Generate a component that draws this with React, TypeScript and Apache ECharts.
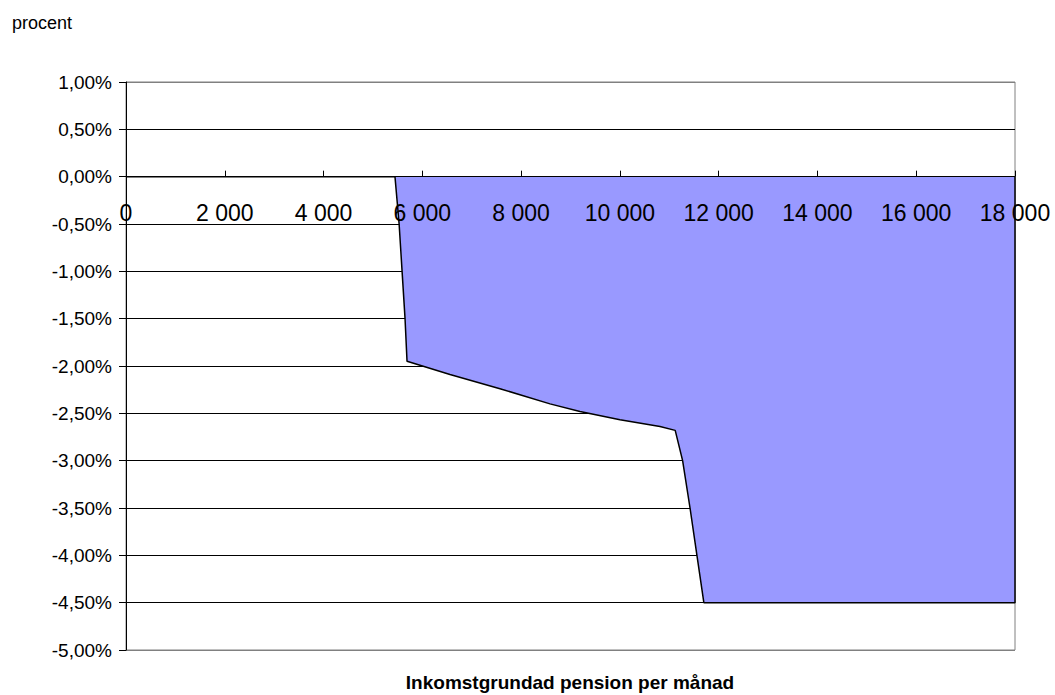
import React, { useEffect, useRef } from "react";
import * as echarts from "echarts";

const pensionX: number[] = [0, 5446, 5530, 5590, 5650, 5690, 6560, 7572, 8585, 9192, 10002, 10812, 11120, 11270, 11420, 11560, 11700, 18000, 18000];
const changePct: number[] = [0, 0, -0.5, -1.0, -1.5, -1.95, -2.09, -2.24, -2.4, -2.48, -2.567, -2.64, -2.68, -3.0, -3.5, -4.0, -4.5, -4.5, 0];

const yTitle = "procent";
const xTitle = "Inkomstgrundad pension per månad";

const FONT = "Liberation Sans, Arial, sans-serif";

export default function App() {
  const ref = useRef<HTMLDivElement>(null);
  useEffect(() => {
    if (!ref.current) return;
    const chart = echarts.init(ref.current, null, { renderer: "svg" });
    const data = pensionX.map((x, i) => [x, changePct[i]]);
    const gridColors: string[] = [];
    for (let i = 0; i < 13; i++) gridColors.push(i === 0 || i === 12 ? "#808080" : "#000000");
    chart.setOption({
      animation: false,
      backgroundColor: "#ffffff",
      grid: {
        left: 126, right: 40, top: 82, bottom: 45,
        outerBoundsMode: "none", containLabel: false,
        show: true, borderColor: "#808080", borderWidth: 1, backgroundColor: "transparent",
      },
      graphic: [
        { type: "text", left: 12, top: 14, style: { text: yTitle, font: `18px ${FONT}`, fill: "#000" } },
        {
          type: "text", x: 570, y: 682,
          style: { text: xTitle, font: `bold 19px ${FONT}`, fill: "#000", align: "center", verticalAlign: "middle" },
        },
      ],
      xAxis: {
        type: "value", min: 0, max: 18000, interval: 2000, z: 10,
        position: "bottom", offset: -473.33,
        axisLine: { onZero: false, lineStyle: { color: "#000", width: 1 } },
        axisTick: { inside: true, length: 6, lineStyle: { color: "#000" } },
        splitLine: { show: false },
        axisLabel: {
          color: "#000", fontFamily: FONT, fontSize: 23, margin: 25,
          formatter: (v: number) => (v === 0 ? "0" : `${Math.floor(v / 1000)} ${String(v % 1000).padStart(3, "0")}`),
        },
      },
      yAxis: {
        type: "value", min: -5, max: 1, interval: 0.5,
        axisLine: { show: true, lineStyle: { color: "#000", width: 1 } },
        axisTick: { show: true, length: 7, lineStyle: { color: "#000" } },
        splitLine: { show: true, lineStyle: { color: gridColors, width: 1 } },
        axisLabel: {
          color: "#000", fontFamily: FONT, fontSize: 19, margin: 14,
          formatter: (v: number) => `${v.toFixed(2).replace(".", ",")}%`,
        },
      },
      series: [
        {
          type: "line", data, symbol: "none", z: 2,
          lineStyle: { color: "#000", width: 1.5 },
          areaStyle: { color: "#9999FF", opacity: 1 },
        },
      ],
    });
    return () => chart.dispose();
  }, []);
  return <div ref={ref} style={{ position: "fixed", left: 0, top: 0, width: 1055, height: 695 }} />;
}
